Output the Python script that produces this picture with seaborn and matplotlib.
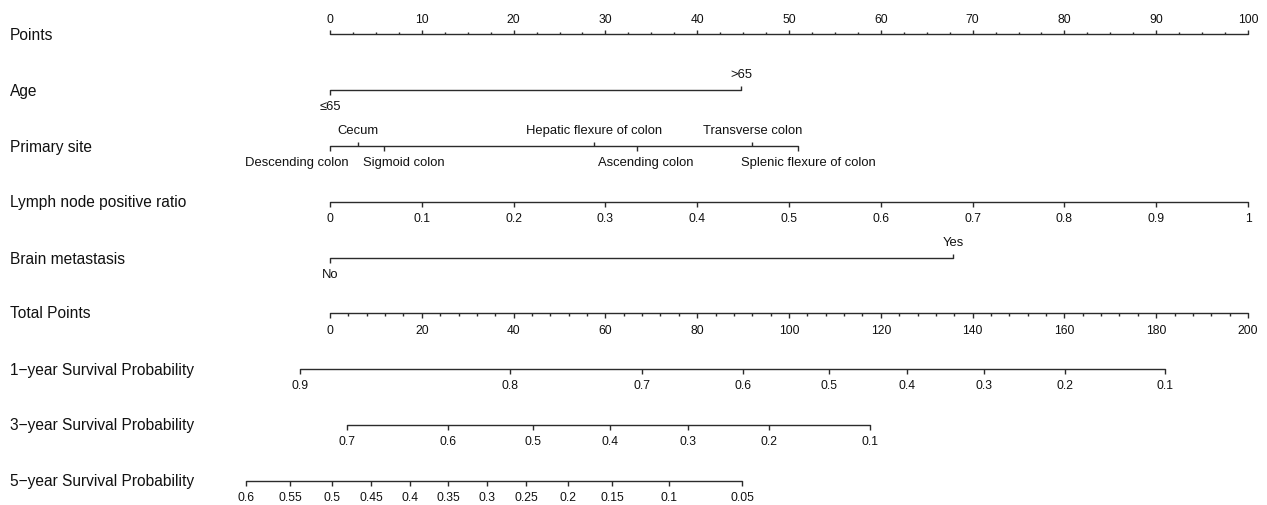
import numpy as np
import pandas as pd
import matplotlib
matplotlib.use("Agg")
import matplotlib.pyplot as plt
import seaborn as sns

# ---------------- data ----------------
row_labels = ["Points", "Age", "Primary site", "Lymph node positive ratio",
              "Brain metastasis", "Total Points",
              "1\u2212year Survival Probability", "3\u2212year Survival Probability",
              "5\u2212year Survival Probability"]

points_major = [0, 10, 20, 30, 40, 50, 60, 70, 80, 90, 100]
points_minor_step = 2.5

age_levels = ["\u226465", ">65"]
age_points = [0, 44.8]

site_levels = ["Descending colon", "Cecum", "Sigmoid colon", "Hepatic flexure of colon",
               "Ascending colon", "Transverse colon", "Splenic flexure of colon"]
site_points = [0, 3.0, 5.9, 28.8, 33.4, 46.0, 51.0]

lnr_values = [0, 0.1, 0.2, 0.3, 0.4, 0.5, 0.6, 0.7, 0.8, 0.9, 1]
lnr_points = [0, 10, 20, 30, 40, 50, 60, 70, 80, 90, 100]

brain_levels = ["No", "Yes"]
brain_points = [0, 67.9]

total_major = [0, 20, 40, 60, 80, 100, 120, 140, 160, 180, 200]
total_minor_step = 4

surv1_labels = ["0.9", "0.8", "0.7", "0.6", "0.5", "0.4", "0.3", "0.2", "0.1"]
surv1_total = [-6.5, 39.3, 68.0, 90.0, 108.7, 125.7, 142.4, 160.1, 182.0]

surv3_labels = ["0.7", "0.6", "0.5", "0.4", "0.3", "0.2", "0.1"]
surv3_total = [3.6, 25.7, 44.2, 61.1, 77.9, 95.6, 117.6]

surv5_labels = ["0.6", "0.55", "0.5", "0.45", "0.4", "0.35", "0.3", "0.25", "0.2",
                "0.15", "0.1", "0.05"]
surv5_total = [-18.3, -8.7, 0.4, 9.0, 17.4, 25.7, 34.1, 42.8, 51.9, 61.5, 73.8, 89.8]

# ---------------- layout ----------------
W, H = 1267, 506
x0_px, x100_px = 330, 1248
px_per_pt = (x100_px - x0_px) / 100.0
row_y = [35, 91, 147, 203, 259, 314, 370, 426, 482]
# horizontal nudges (pixels) applied to site labels so they do not collide
site_label_nudge_px = {"Descending colon": -33, "Sigmoid colon": 20,
                       "Ascending colon": 9, "Splenic flexure of colon": 10}

sns.set_theme(style="white")
plt.rcParams["font.family"] = ["Liberation Sans", "DejaVu Sans"]

fig = plt.figure(figsize=(W / 100, H / 100), dpi=100)
ax = fig.add_axes([0, 0, 1, 1])

LC = "#2b2b2b"
TC = "#111111"
LW = 1.0
TICK_FS = 8.7
CAT_FS = 9.4
ROW_FS = 11.2
MAJ = 4.5
MIN = 2.5

# axis lines via seaborn
segs = []
def add_seg(name, xa, xb, y):
    segs.append({"seg": name, "x": xa, "y": y})
    segs.append({"seg": name, "x": xb, "y": y})

tp = lambda t: t / 2.0  # total points -> points scale

add_seg("points", 0, 100, row_y[0])
add_seg("age", min(age_points), max(age_points), row_y[1])
add_seg("site", min(site_points), max(site_points), row_y[2])
add_seg("lnr", min(lnr_points), max(lnr_points), row_y[3])
add_seg("brain", min(brain_points), max(brain_points), row_y[4])
add_seg("total", tp(min(total_major)), tp(max(total_major)), row_y[5])
add_seg("s1", tp(min(surv1_total)), tp(max(surv1_total)), row_y[6])
add_seg("s3", tp(min(surv3_total)), tp(max(surv3_total)), row_y[7])
add_seg("s5", tp(min(surv5_total)), tp(max(surv5_total)), row_y[8])
df = pd.DataFrame(segs)
sns.lineplot(data=df, x="x", y="y", units="seg", estimator=None, color=LC,
             lw=LW, ax=ax, legend=False, sort=False)
ax.set_xlim(-x0_px / px_per_pt, (W - x0_px) / px_per_pt)
ax.set_ylim(H, 0)
ax.axis("off")

def tick(x, y, length, up):
    y2 = y - length if up else y + length
    ax.plot([x, x], [y, y2], color=LC, lw=LW, solid_capstyle="butt")

# row labels
for lab, y in zip(row_labels, row_y):
    ax.text(-x0_px / px_per_pt + 10 / px_per_pt, y, lab, fontsize=ROW_FS,
            color=TC, va="center", ha="left")

# Points axis (ticks up, labels above)
y = row_y[0]
for v in np.arange(0, 100 + 1e-9, points_minor_step):
    is_major = any(abs(v - m) < 1e-9 for m in points_major)
    tick(v, y, MAJ if is_major else MIN, True)
for m in points_major:
    ax.text(m, y - 15, str(m), fontsize=TICK_FS, color=TC, ha="center", va="center")

# categorical axes, labels alternate above/below
def cat_axis(levels, pts, y, nudge=None):
    nudge = nudge or {}
    order = np.argsort(pts, kind="stable")
    for k, i in enumerate(order):
        up = (k % 2 == 1)
        tick(pts[i], y, MAJ, up)
        xl = pts[i] + nudge.get(levels[i], 0) / px_per_pt
        ax.text(xl, y - 16 if up else y + 16, levels[i], fontsize=CAT_FS,
                color=TC, ha="center", va="center")

cat_axis(age_levels, age_points, row_y[1])
cat_axis(site_levels, site_points, row_y[2], site_label_nudge_px)
cat_axis(brain_levels, brain_points, row_y[4])

# Lymph node ratio
y = row_y[3]
for v, p in zip(lnr_values, lnr_points):
    tick(p, y, MAJ, False)
    ax.text(p, y + 16, f"{v:g}", fontsize=TICK_FS, color=TC, ha="center", va="center")

# Total points
y = row_y[5]
for v in np.arange(0, 200 + 1e-9, total_minor_step):
    is_major = any(abs(v - m) < 1e-9 for m in total_major)
    tick(tp(v), y, MAJ if is_major else MIN, False)
for m in total_major:
    ax.text(tp(m), y + 17, str(m), fontsize=TICK_FS, color=TC, ha="center", va="center")

# survival axes
for labels, tots, y in [(surv1_labels, surv1_total, row_y[6]),
                        (surv3_labels, surv3_total, row_y[7]),
                        (surv5_labels, surv5_total, row_y[8])]:
    for lab, t in zip(labels, tots):
        tick(tp(t), y, MAJ, False)
        ax.text(tp(t), y + 16, lab, fontsize=TICK_FS, color=TC, ha="center", va="center")

fig.savefig("out.png", dpi=100, facecolor="white")
